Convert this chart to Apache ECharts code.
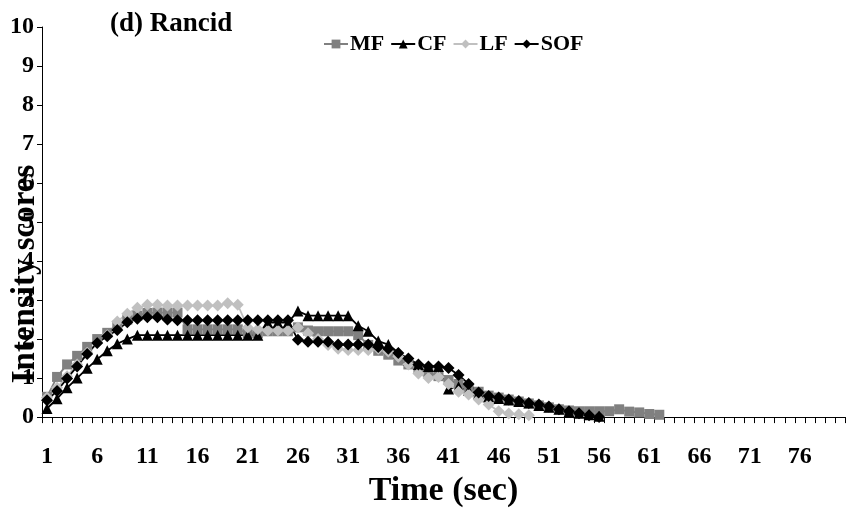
<!DOCTYPE html>
<html>
<head>
<meta charset="utf-8">
<script src="https://cdn.jsdelivr.net/npm/echarts@6/dist/echarts.min.js"></script>
<style>
  html, body { margin: 0; padding: 0; background: #fff; }
  #chart { width: 849px; height: 513px; }
</style>
</head>
<body>
<div id="chart"></div>
<script>
// Time points (sec)
const times = Array.from({ length: 80 }, (_, i) => String(i + 1));

// Intensity scores per sample, one value per second
const mf = [0.52, 1.03, 1.35, 1.57, 1.8, 2.0, 2.16, 2.34, 2.5, 2.6,
  2.67, 2.68, 2.68, 2.68, 2.25, 2.25, 2.25, 2.25, 2.25, 2.25,
  2.15, 2.15, 2.2, 2.2, 2.2, 2.3, 2.22, 2.2, 2.2, 2.2,
  2.2, 2.1, 1.85, 1.7, 1.6, 1.45, 1.35, 1.25, 1.15, 1.05,
  0.95, 0.85, 0.75, 0.65, 0.55, 0.5, 0.45, 0.4, 0.35, 0.3,
  0.25, 0.2, 0.17, 0.15, 0.15, 0.15, 0.15, 0.2, 0.14, 0.12,
  0.08, 0.06];
const cf = [0.22, 0.47, 0.75, 1.0, 1.25, 1.48, 1.7, 1.88, 2.0, 2.1,
  2.1, 2.1, 2.1, 2.1, 2.1, 2.1, 2.1, 2.1, 2.1, 2.1,
  2.1, 2.1, 2.42, 2.42, 2.42, 2.72, 2.6, 2.6, 2.6, 2.6,
  2.6, 2.34, 2.2, 1.95, 1.86, 1.65, 1.45, 1.35, 1.3, 1.3,
  0.72, 0.78, 0.68, 0.6, 0.52, 0.48, 0.44, 0.4, 0.36, 0.3,
  0.25, 0.2, 0.14, 0.1, 0.06, 0.02];
const lf = [0.5, 0.75, 1.05, 1.35, 1.65, 1.9, 2.1, 2.45, 2.65, 2.8,
  2.88, 2.88, 2.86, 2.86, 2.86, 2.86, 2.86, 2.86, 2.92, 2.88,
  2.3, 2.25, 2.22, 2.22, 2.22, 2.3, 2.15, 2.0, 1.85, 1.75,
  1.72, 1.72, 1.72, 1.75, 1.68, 1.55, 1.35, 1.12, 1.0, 1.03,
  0.85, 0.65, 0.58, 0.45, 0.32, 0.15, 0.09, 0.07, 0.05];
const sof = [0.43, 0.67, 0.99, 1.3, 1.62, 1.9, 2.07, 2.23, 2.43, 2.52,
  2.56, 2.56, 2.5, 2.48, 2.48, 2.48, 2.48, 2.48, 2.48, 2.48,
  2.48, 2.48, 2.48, 2.48, 2.48, 1.98, 1.93, 1.93, 1.93, 1.86,
  1.86, 1.86, 1.86, 1.8, 1.75, 1.64, 1.5, 1.35, 1.3, 1.3,
  1.26, 1.08, 0.85, 0.63, 0.54, 0.5, 0.45, 0.41, 0.36, 0.32,
  0.27, 0.2, 0.15, 0.1, 0.05, 0.0];

const yTicks = [0, 1, 2, 3, 4, 5, 6, 7, 8, 9, 10];

const FONT = '"Liberation Serif", "Times New Roman", serif';

function lineSeries(name, data, symbol, color, size) {
  return {
    name, type: 'line', data, symbol, symbolSize: size,
    showAllSymbol: true,
    lineStyle: { color, width: 1.8 },
    itemStyle: { color },
    emphasis: { disabled: true }
  };
}

const chart = echarts.init(document.getElementById('chart'), null, { renderer: 'canvas' });
chart.setOption({
  animation: false,
  backgroundColor: '#fff',
  textStyle: { fontFamily: FONT, fontWeight: 'bold', color: '#000' },
  title: {
    text: '(d) Rancid', left: 105, top: 6,
    textStyle: { fontFamily: FONT, fontWeight: 'bold', fontSize: 27, color: '#000' }
  },
  legend: {
    top: 28, left: 318,
    itemGap: 6, itemWidth: 24, itemHeight: 11,
    textStyle: { fontFamily: FONT, fontWeight: 'bold', fontSize: 22, color: '#000', padding: [0, 0, 0, -3] },
    data: ['MF', 'CF', 'LF', 'SOF']
  },
  grid: { left: 42, right: 4, top: 27, bottom: 87, containLabel: false },
  xAxis: {
    type: 'category', data: times, boundaryGap: true,
    axisLine: { lineStyle: { color: '#000', width: 1 } },
    axisTick: { show: true, interval: 0, alignWithLabel: false, length: 6, inside: false, lineStyle: { color: '#000' } },
    axisLabel: { interval: 4, margin: 28, fontFamily: FONT, fontWeight: 'bold', fontSize: 24, color: '#000' },
    name: 'Time (sec)', nameLocation: 'middle', nameGap: 52,
    nameTextStyle: { fontFamily: FONT, fontWeight: 'bold', fontSize: 34, color: '#000' }
  },
  yAxis: {
    type: 'value', min: 0, max: 10, interval: 1,
    axisLine: { show: true, lineStyle: { color: '#000', width: 1 } },
    axisTick: { show: true, length: 5, lineStyle: { color: '#000' } },
    splitLine: { show: false },
    axisLabel: {
      margin: 8, fontFamily: FONT, fontWeight: 'bold', fontSize: 24, color: '#000',
      formatter: v => (yTicks.includes(v) ? String(v) : '')
    }
  },
  graphic: [{
    type: 'text',
    x: 25, y: 274,
    rotation: Math.PI / 2,
    style: {
      text: 'Intensity scores', align: 'center', verticalAlign: 'middle',
      fontFamily: FONT, fontWeight: 'bold', fontSize: 33, fill: '#000'
    }
  }],
  series: [
    lineSeries('MF', mf, 'rect', '#808080', 10),
    lineSeries('CF', cf, 'triangle', '#000000', 11),
    lineSeries('LF', lf, 'diamond', '#c0c0c0', 12),
    lineSeries('SOF', sof, 'diamond', '#000000', 12)
  ]
});
</script>
</body>
</html>
